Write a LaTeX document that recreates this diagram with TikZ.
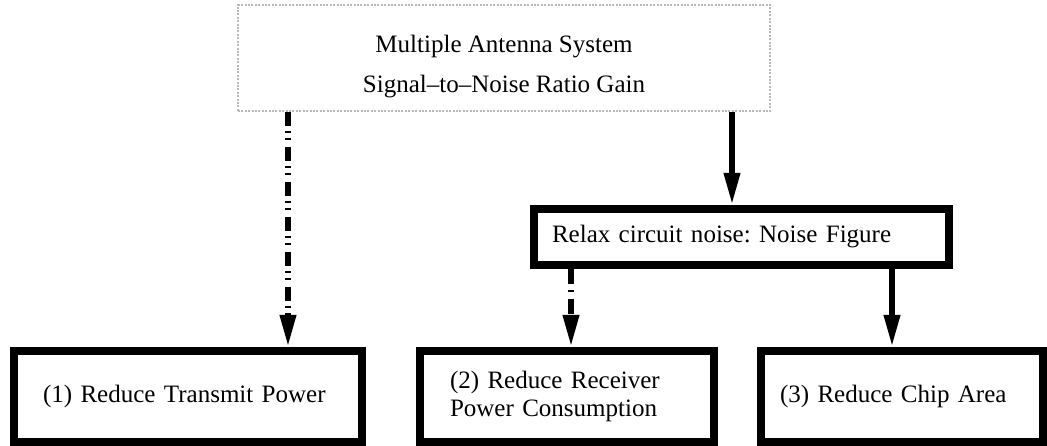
\documentclass[tikz,border=0pt]{standalone}
\usepackage{fontspec}
\setmainfont{Liberation Serif}
\usetikzlibrary{arrows.meta}

\begin{document}
\begin{tikzpicture}[line cap=butt,line join=miter,
    every node/.style={font=\fontsize{17.8pt}{20.5pt}\selectfont\frenchspacing},
    gainbox/.style={draw=gray!55,densely dotted,line width=0.05cm,align=center,
      minimum width=13.30cm,minimum height=2.65cm},
    goalbox/.style={draw,line width=0.2cm,align=left,inner ysep=0pt},
    solidarrow/.style={line width=0.15cm,-{Triangle[length=0.8cm,width=0.38cm]}},
    dashdotarrow/.style={solidarrow,
      dash pattern=on 0.35cm off 0.125cm on 0.05cm off 0.125cm on 0.05cm off 0.175cm},
    dasharrow/.style={solidarrow,
      dash pattern=on 0.38cm off 0.15cm on 0.05cm off 0.17cm}]
  \useasboundingbox (0,0) rectangle (26.175,11.15);
  \node[gainbox] (snr) at (12.60,9.70)
    {\raisebox{-0.22cm}[\height][\depth]{\begin{tabular}{@{}c@{}}Multiple Antenna System\\[0.28cm]
     Signal--to--Noise Ratio Gain\end{tabular}}};
  \node[goalbox,minimum width=10.375cm,minimum height=1.40cm,
    inner xsep=0.45cm,text width=9.475cm] (nf) at (18.5375,5.225)
    {Relax circuit noise: Noise Figure};
  \node[goalbox,minimum width=8.70cm,minimum height=2.275cm,
    inner xsep=0.725cm,text width=7.25cm] (txp) at (4.70,1.2375)
    {(1) Reduce Transmit Power};
  \node[goalbox,minimum width=7.35cm,minimum height=2.275cm,
    inner xsep=0.75cm,text width=5.85cm] (rxp) at (14.175,1.2375)
    {(2) Reduce Receiver\\Power Consumption};
  \node[goalbox,minimum width=7.05cm,minimum height=2.275cm,
    inner xsep=0.475cm,text width=6.10cm] (chip) at (22.55,1.2375)
    {(3) Reduce Chip Area};
  % where the arrows run
  \coordinate (c1) at (7.20,0);
  \coordinate (c2) at (18.30,0);
  \coordinate (c3) at (14.275,0);
  \coordinate (c4) at (22.30,0);
  \draw[dashdotarrow] (snr.south -| c1) -- (txp.north -| c1);
  \draw[solidarrow] (snr.south -| c2) -- (nf.north -| c2);
  \draw[dasharrow] (nf.south -| c3) -- (rxp.north -| c3);
  \draw[solidarrow] (nf.south -| c4) -- (chip.north -| c4);
\end{tikzpicture}
\end{document}
